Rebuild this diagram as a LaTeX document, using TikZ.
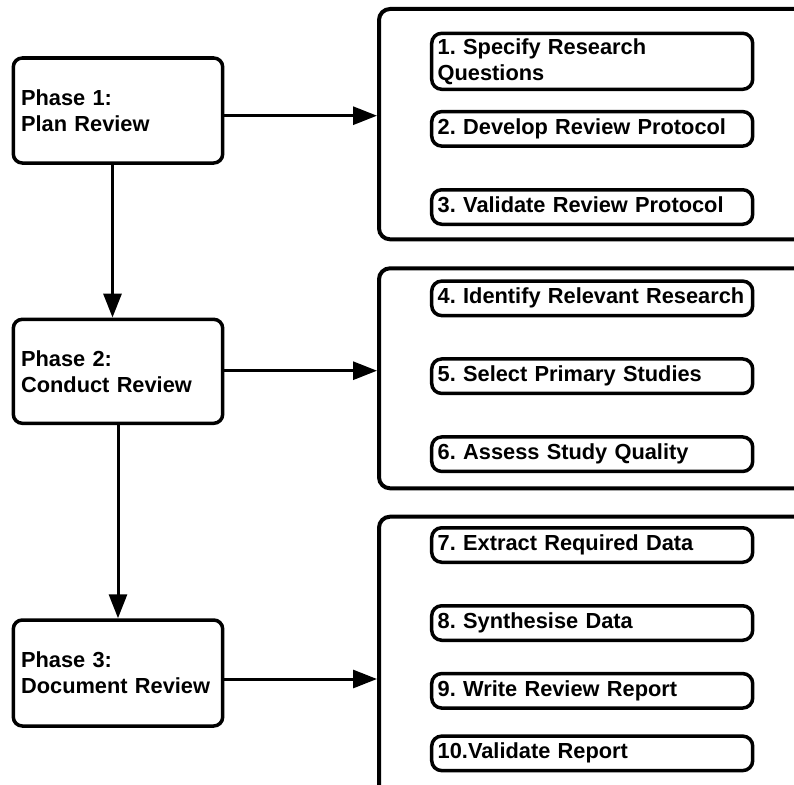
\documentclass[tikz,border=0pt]{standalone}
\usepackage{fontspec}
\setmainfont{Liberation Sans}
\usetikzlibrary{arrows.meta,calc}
\frenchspacing
\hyphenpenalty=10000
\begin{document}
\begin{tikzpicture}[x=1pt,y=-1pt,
  every node/.style={font=\fontsize{21.8}{26}\selectfont\bfseries\frenchspacing},
  phasebox/.style={draw, line width=3.5pt, rounded corners=9pt,
    text width=193.8pt, inner xsep=7.8pt, inner ysep=0pt, align=left},
  stagebox/.style={draw, line width=4pt, rounded corners=11pt,
    minimum width=451pt, inner sep=0pt},
  stepbox/.style={draw, line width=3.5pt, rounded corners=10pt,
    text width=309pt, inner xsep=6pt, inner ysep=0pt, align=left,
    minimum height=34.5pt},
  oneline/.style={text height=16pt, text depth=5pt},
  arr/.style={line width=3pt, -{Triangle[length=24pt,width=18pt]}}
]
\useasboundingbox (0,0) rectangle (794,784);
\fill[white] (0,0) rectangle (794,784);

% phases
\node[phasebox, minimum height=105pt] (p1) at (118,110.5) {Phase 1:\\Plan Review};
\node[phasebox, minimum height=104pt] (p2) at (118,371.3) {Phase 2:\\Conduct Review};
\node[phasebox, minimum height=106pt] (p3) at (118,673) {Phase 3:\\Document Review};

% stage containers (run off the right and bottom edges)
\node[stagebox, minimum height=230.3pt] (c1) at (604.5,124.15) {};
\node[stagebox, minimum height=220pt] (c2) at (604.5,378.3) {};
\node[stagebox, minimum height=313.3pt] (c3) at (604.5,673.35) {};

% steps
\node[stepbox, minimum height=56pt] (s1) at (592.2,61.3) {1. Specify Research\\Questions};
\node[stepbox, oneline] (s2) at (592.2,128.85) {\mbox{2. Develop Review Protocol}};
\node[stepbox, oneline] (s3) at (592.2,207) {\mbox{3. Validate Review Protocol}};
\node[stepbox, oneline] (s4) at (592.2,298.35) {\mbox{4. Identify Relevant Research}};
\node[stepbox, oneline] (s5) at (592.2,376.2) {\mbox{5. Select Primary Studies}};
\node[stepbox, oneline] (s6) at (592.2,454.2) {\mbox{6. Assess Study Quality}};
\node[stepbox, oneline] (s7) at (592.2,545) {\mbox{7. Extract Required Data}};
\node[stepbox, oneline] (s8) at (592.2,623) {\mbox{8. Synthesise Data}};
\node[stepbox, oneline] (s9) at (592.2,690.8) {\mbox{9. Write Review Report}};
\node[stepbox, oneline] (s10) at (592.2,753.35) {\mbox{10.Validate Report}};

% connectors
\coordinate (h1) at (0,115.7);
\coordinate (h2) at (0,370.7);
\coordinate (h3) at (0,679);
\draw[arr] (p1.east |- h1) -- (c1.west |- h1);
\draw[arr] (p2.east |- h2) -- (c2.west |- h2);
\draw[arr] (p3.east |- h3) -- (c3.west |- h3);
\draw[arr] ([xshift=-5.5pt]p1.south) -- ([xshift=-5.5pt]p2.north);
\draw[arr] (p2.south) -- (p3.north);
\end{tikzpicture}
\end{document}
